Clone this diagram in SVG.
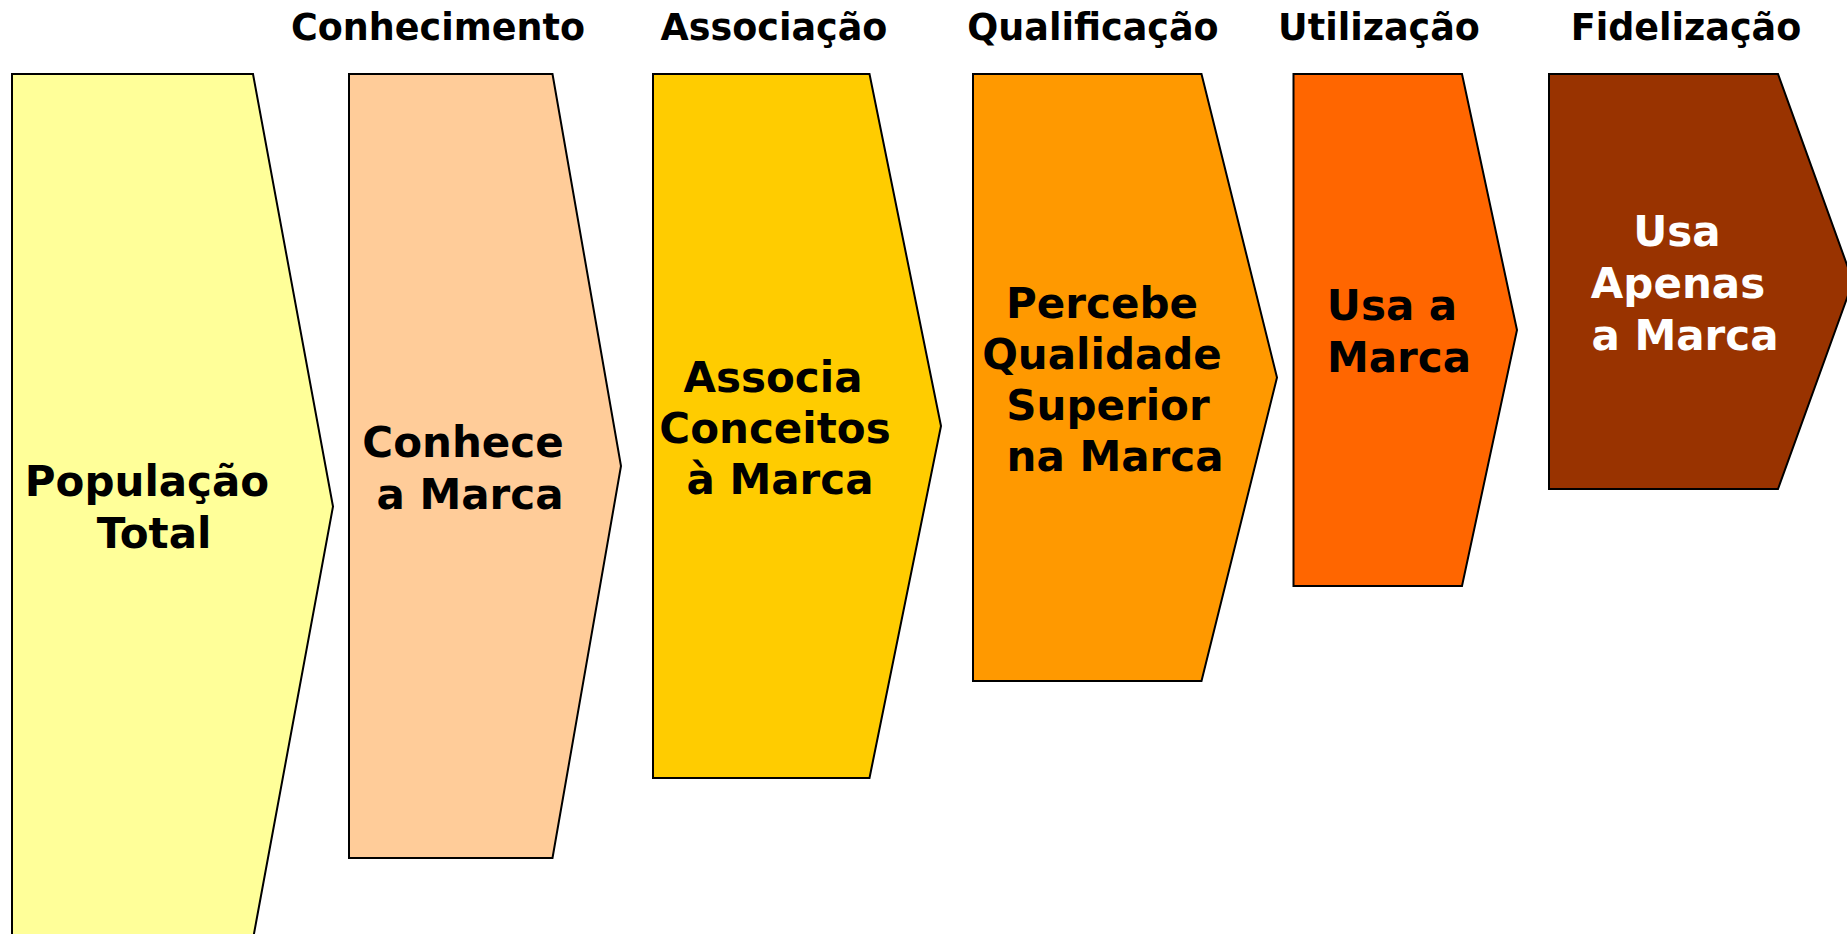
<svg xmlns="http://www.w3.org/2000/svg" width="1847" height="934" viewBox="0 0 1847 934">
<style>
.s{stroke:#000;stroke-width:2;stroke-linejoin:miter}
.h{font-family:"DejaVu Sans","Liberation Sans",sans-serif;font-weight:bold;font-size:36.5px;fill:#000;text-anchor:middle}
.t{font-family:"DejaVu Sans","Liberation Sans",sans-serif;font-weight:bold;font-size:42px;fill:#000;text-anchor:middle}
.w{fill:#fff}
</style>
<rect width="1847" height="934" fill="#fff"/>
<g id="headers">
<text class="h" x="438" y="40">Conhecimento</text>
<text class="h" x="774" y="40">Associação</text>
<text class="h" x="1093" y="40">Qualificação</text>
<text class="h" x="1379" y="40">Utilização</text>
<text class="h" x="1686" y="40">Fidelização</text>
</g>
<g id="connectors"></g>
<g id="populacao">
<polygon class="s" fill="#FFFF99" points="12,74 253,74 333,506.5 253,939 12,939"/>
<text class="t" x="147" y="496">População</text>
<text class="t" x="154" y="548">Total</text>
</g>
<g id="conhece">
<polygon class="s" fill="#FFCC99" points="349,74 552.5,74 621,466 552.5,858 349,858"/>
<text class="t" x="463" y="457">Conhece</text>
<text class="t" x="470" y="509">a Marca</text>
</g>
<g id="associa">
<polygon class="s" fill="#FFCC00" points="653,74 869.5,74 941,426 869.5,778 653,778"/>
<text class="t" x="773" y="392">Associa</text>
<text class="t" x="775" y="443">Conceitos</text>
<text class="t" x="780" y="494">à Marca</text>
</g>
<g id="percebe">
<polygon class="s" fill="#FF9900" points="973,74 1201.5,74 1277,377.5 1201.5,681 973,681"/>
<text class="t" x="1102" y="318">Percebe</text>
<text class="t" x="1102" y="369">Qualidade</text>
<text class="t" x="1108" y="420">Superior</text>
<text class="t" x="1115" y="471">na Marca</text>
</g>
<g id="usa">
<polygon class="s" fill="#FF6600" points="1293.5,74 1462,74 1517,330 1462,586 1293.5,586"/>
<text class="t" x="1392" y="320">Usa a</text>
<text class="t" x="1399" y="372">Marca</text>
</g>
<g id="fidelizacao">
<polygon class="s" fill="#993300" points="1549,74 1778,74 1853,281.5 1778,489 1549,489"/>
<text class="t w" x="1677" y="246">Usa</text>
<text class="t w" x="1678" y="298">Apenas</text>
<text class="t w" x="1685" y="350">a Marca</text>
</g>
</svg>
